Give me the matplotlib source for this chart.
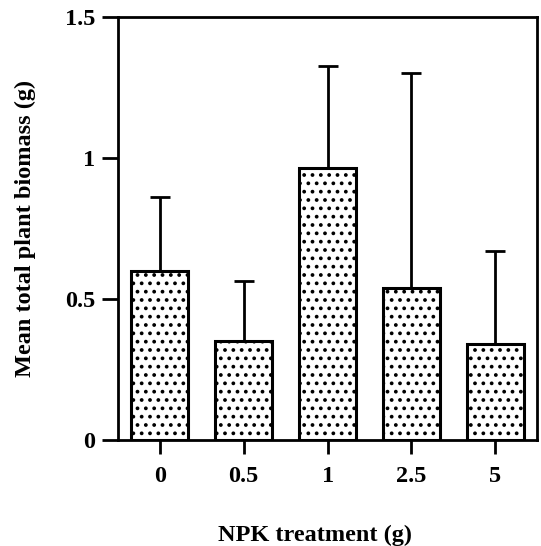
import numpy as np
import matplotlib.pyplot as plt

# data
treatments = ['0', '0.5', '1', '2.5', '5']
biomass = [0.60, 0.35, 0.965, 0.54, 0.34]
err_upper = [0.26, 0.215, 0.36, 0.76, 0.33]

plt.rcParams['font.family'] = ['Liberation Serif', 'DejaVu Serif']
plt.rcParams['hatch.linewidth'] = 1.5

fig = plt.figure(figsize=(5.41, 5.46), dpi=100)
ax = fig.add_axes([0.218, 0.194, 0.775, 0.775])

x = np.arange(len(treatments))
ax.errorbar(x, biomass, yerr=[np.zeros(len(x)), err_upper], fmt='none',
            ecolor='black', elinewidth=2, capsize=7.2, capthick=2, zorder=1)
ax.bar(x, biomass, width=0.68, facecolor='white', edgecolor='black',
       linewidth=2.2, hatch='..', zorder=2)

ax.set_xlim(-0.5, 4.5)
ax.set_ylim(0, 1.5)
ax.set_yticks([0, 0.5, 1, 1.5])
ax.set_yticklabels(['0', '0.5', '1', '1.5'])
ax.set_xticks(x)
ax.set_xticklabels(treatments)

for s in ax.spines.values():
    s.set_linewidth(2)
ax.tick_params(axis='both', direction='out', width=2, labelsize=17.5)
ax.tick_params(axis='y', length=11.5, pad=5)
ax.tick_params(axis='x', length=10, pad=9)
for t in ax.get_xticklabels() + ax.get_yticklabels():
    t.set_fontweight('bold')

ax.set_ylabel('Mean total plant biomass (g)', fontsize=17.5, fontweight='bold')
ax.yaxis.set_label_coords(-0.196, 0.5)
ax.set_xlabel('NPK treatment (g)', fontsize=17.5, fontweight='bold')
ax.xaxis.set_label_coords(0.47, -0.2)

plt.savefig('out.png', dpi=100)
